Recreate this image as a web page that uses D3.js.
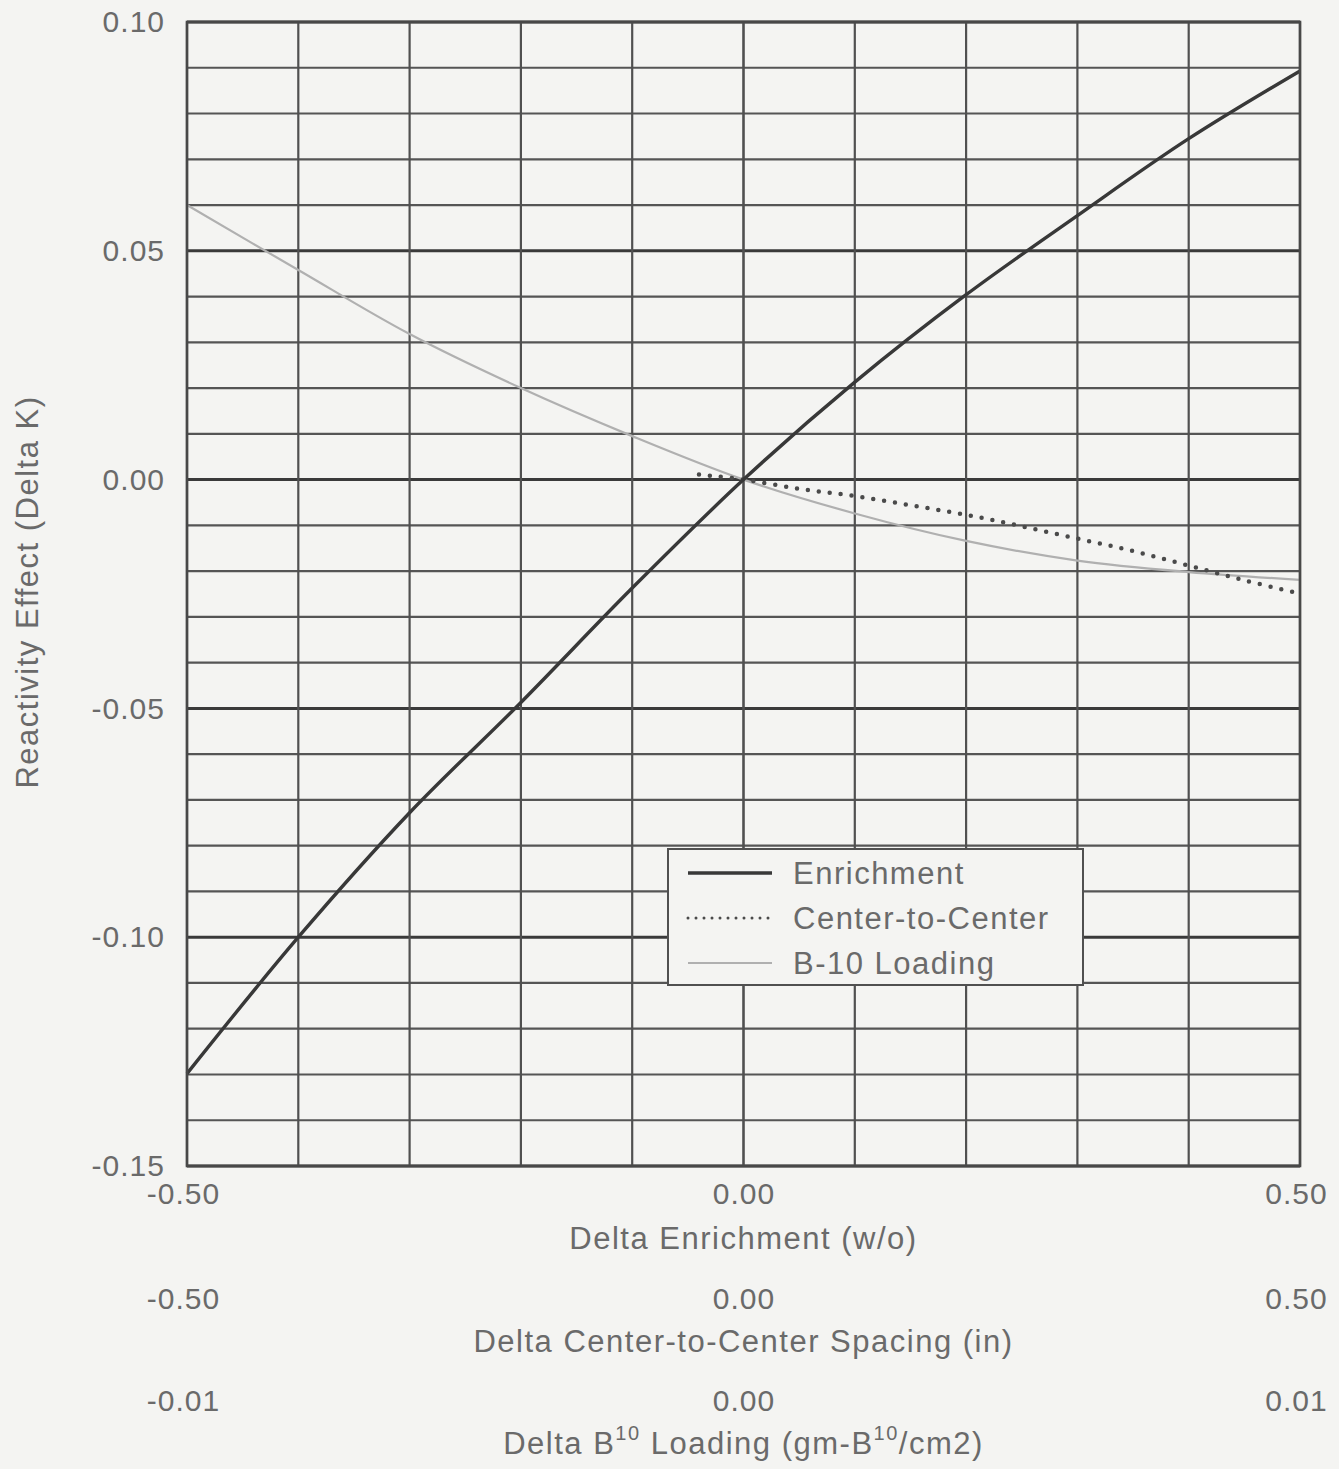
<!DOCTYPE html>
<html>
<head>
<meta charset="utf-8">
<script src="https://cdn.jsdelivr.net/npm/d3@7"></script>
<style>
  body { margin: 0; background: #f4f4f2; }
  text { font-family: "Liberation Sans", Arial, sans-serif; fill: #6a6a6a; }
</style>
</head>
<body>
<div id="chart"></div>
<script>
// values, x in delta enrichment units (-0.5 .. 0.5)
const xSteps = [-0.5, -0.4, -0.3, -0.2, -0.1, 0, 0.1, 0.2, 0.3, 0.4, 0.5];
const enrichment = [-0.1298, -0.1000, -0.0728, -0.0487, -0.0237, 0, 0.0213, 0.0404, 0.0577, 0.0745, 0.0893];
const b10Loading = [0.0600, 0.0458, 0.0318, 0.0200, 0.0095, 0, -0.0074, -0.0134, -0.0177, -0.0202, -0.0219];

const ctcX = [-0.04, 0, 0.05, 0.1, 0.15, 0.2, 0.25, 0.3, 0.35, 0.4, 0.45, 0.5];
const centerToCenter = [0.0011, 0, -0.0020, -0.0036, -0.0056, -0.0077, -0.0102, -0.0129, -0.0156, -0.0188, -0.0220, -0.0249];

const yTicks = [-0.15, -0.10, -0.05, 0.00, 0.05, 0.10];
const enrichTicks = [-0.5, 0, 0.5];
const spacingTicks = [-0.5, 0, 0.5];
const b10Ticks = [-0.01, 0, 0.01];

const legendNames = ['Enrichment', 'Center-to-Center', 'B-10 Loading'];

const width = 1339;
const height = 1469;
const margin = { top: 22, left: 187, right: 39, bottom: 303 };
const innerW = width - margin.left - margin.right;
const innerH = height - margin.top - margin.bottom;
const bg = '#f4f4f2';

const svg = d3.select('#chart').append('svg')
    .attr('width', width)
    .attr('height', height);

svg.append('rect').attr('width', width).attr('height', height).attr('fill', bg);

const g = svg.append('g').attr('transform', `translate(${margin.left},${margin.top})`);

const x = d3.scaleLinear().domain([-0.5, 0.5]).range([0, innerW]);
const y = d3.scaleLinear().domain([-0.15, 0.10]).range([innerH, 0]);
const xSpacing = d3.scaleLinear().domain([-0.5, 0.5]).range([0, innerW]);
const xB10 = d3.scaleLinear().domain([-0.01, 0.01]).range([0, innerW]);

const fmt = d => d.toFixed(2);

// grid: horizontal every 0.01, heavier every 0.05
const hLines = d3.range(-15, 11).map(i => i / 100);
const isMajor = d => Math.abs(Math.round(d * 100)) % 5 === 0;
g.append('g').selectAll('line')
    .data(hLines)
    .join('line')
    .attr('x1', 0).attr('x2', innerW)
    .attr('y1', d => y(d)).attr('y2', d => y(d))
    .attr('stroke', d => isMajor(d) ? '#3a3a3a' : '#555')
    .attr('stroke-width', d => isMajor(d) ? 3 : 2.2);

const vLines = d3.range(-5, 6).map(i => i / 10);
g.append('g').selectAll('line')
    .data(vLines)
    .join('line')
    .attr('x1', d => x(d)).attr('x2', d => x(d))
    .attr('y1', 0).attr('y2', innerH)
    .attr('stroke', '#505050')
    .attr('stroke-width', d => d === 0 ? 2.6 : 2.2);

// axes (labels only)
const yAxis = g.append('g')
    .call(d3.axisLeft(y).tickValues(yTicks).tickFormat(fmt).tickSize(0).tickPadding(22));
yAxis.select('.domain').remove();
yAxis.selectAll('text').attr('font-size', 30).attr('fill', '#6a6a6a')
    .style('font-family', null).style('letter-spacing', '1px');

const bottomAxis = (scale, ticks, fmtFn, dy) => {
    const a = g.append('g')
        .attr('transform', `translate(0,${innerH + dy})`)
        .call(d3.axisBottom(scale).tickValues(ticks).tickFormat(fmtFn).tickSize(0).tickPadding(0));
    a.select('.domain').remove();
    a.selectAll('text').attr('font-size', 30).attr('fill', '#6a6a6a').attr('dy', '0.35em')
        .style('font-family', null).style('letter-spacing', '1px');
    a.selectAll('.tick').filter((d, i) => i === 0).select('text').attr('x', -4);
    a.selectAll('.tick').filter((d, i) => i === ticks.length - 1).select('text').attr('x', -4);
    return a;
};
bottomAxis(x, enrichTicks, fmt, 27);
bottomAxis(xSpacing, spacingTicks, fmt, 132);
bottomAxis(xB10, b10Ticks, fmt, 234);

// axis titles
const titleStyle = sel => sel.attr('text-anchor', 'middle').attr('dy', '0.35em')
    .attr('font-size', 31).style('letter-spacing', '1.5px');

g.append('text')
    .attr('x', innerW / 2).attr('y', innerH + 72)
    .call(titleStyle)
    .text('Delta Enrichment (w/o)');
g.append('text')
    .attr('x', innerW / 2).attr('y', innerH + 175)
    .call(titleStyle)
    .text('Delta Center-to-Center Spacing (in)');
const b10Title = g.append('text')
    .attr('x', innerW / 2).attr('y', innerH + 277)
    .call(titleStyle);
b10Title.append('tspan').text('Delta B');
b10Title.append('tspan').attr('font-size', 20).attr('dy', '-0.7em').text('10');
b10Title.append('tspan').attr('dy', '0.45em').text(' Loading (gm-B');
b10Title.append('tspan').attr('font-size', 20).attr('dy', '-0.7em').text('10');
b10Title.append('tspan').attr('dy', '0.45em').text('/cm2)');

svg.append('text')
    .attr('transform', 'translate(27,592) rotate(-90)')
    .call(titleStyle)
    .text('Reactivity Effect (Delta K)');

// curves
const line = d3.line()
    .x(d => x(d[0]))
    .y(d => y(d[1]))
    .curve(d3.curveCatmullRom);

g.append('path')
    .datum(xSteps.map((v, i) => [v, b10Loading[i]]))
    .attr('d', line)
    .attr('fill', 'none')
    .attr('stroke', '#b0b0b0')
    .attr('stroke-width', 2.2);

g.append('path')
    .datum(ctcX.map((v, i) => [v, centerToCenter[i]]))
    .attr('d', line)
    .attr('fill', 'none')
    .attr('stroke', '#4a4a4a')
    .attr('stroke-width', 4.5)
    .attr('stroke-linecap', 'round')
    .attr('stroke-dasharray', '0 11');

g.append('path')
    .datum(xSteps.map((v, i) => [v, enrichment[i]]))
    .attr('d', line)
    .attr('fill', 'none')
    .attr('stroke', '#383838')
    .attr('stroke-width', 3.4);

// plot frame
g.append('rect')
    .attr('width', innerW).attr('height', innerH)
    .attr('fill', 'none').attr('stroke', '#484848').attr('stroke-width', 2.6);

// legend
const legend = g.append('g').attr('transform', `translate(${668 - margin.left},${849 - margin.top})`);
legend.append('rect')
    .attr('width', 415).attr('height', 136)
    .attr('fill', bg).attr('stroke', '#505050').attr('stroke-width', 2);

const legendStyles = [
    { stroke: '#383838', w: 3.4, dash: null, cap: 'butt' },
    { stroke: '#4a4a4a', w: 3, dash: '0 8', cap: 'round' },
    { stroke: '#b0b0b0', w: 2.2, dash: null, cap: 'butt' }
];

const entry = legend.selectAll('g.entry')
    .data(legendNames)
    .join('g')
    .attr('class', 'entry')
    .attr('transform', (d, i) => `translate(0,${24 + i * 45})`);

entry.append('line')
    .attr('x1', 20).attr('x2', 104)
    .attr('stroke', (d, i) => legendStyles[i].stroke)
    .attr('stroke-width', (d, i) => legendStyles[i].w)
    .attr('stroke-dasharray', (d, i) => legendStyles[i].dash)
    .attr('stroke-linecap', (d, i) => legendStyles[i].cap);

entry.append('text')
    .attr('x', 125).attr('dy', '0.35em')
    .attr('font-size', 31)
    .style('letter-spacing', '1.5px')
    .text(d => d);
</script>
</body>
</html>
